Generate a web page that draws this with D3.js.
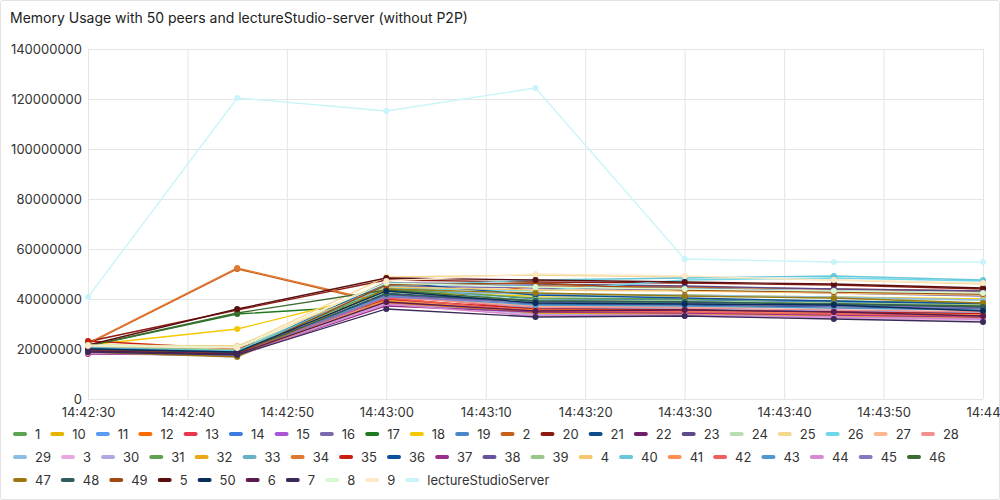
<!DOCTYPE html>
<html>
<head>
<meta charset="utf-8">
<script src="https://cdn.jsdelivr.net/npm/d3@7"></script>
<style>
  body { margin: 0; background: #fff; font-family: Inter, "Noto Sans", sans-serif; }
  svg text { font-family: Inter, "Noto Sans", sans-serif; }
</style>
</head>
<body>
<svg id="chart" width="1000" height="500"></svg>
<script>
// sample times
const times = ["14:42:30", "14:42:45", "14:43:00", "14:43:15", "14:43:30", "14:43:45", "14:44:00"];
const xTickValues = ["14:42:30", "14:42:40", "14:42:50", "14:43:00", "14:43:10", "14:43:20", "14:43:30", "14:43:40", "14:43:50", "14:44:00"];
const xTickLabels = ["14:42:30", "14:42:40", "14:42:50", "14:43:00", "14:43:10", "14:43:20", "14:43:30", "14:43:40", "14:43:50", "14:44"];
const yTicks = [0, 20000000, 40000000, 60000000, 80000000, 100000000, 120000000, 140000000];

// series names in legend order
const names = ["1","10","11","12","13","14","15","16","17","18","19","2","20","21","22","23","24","25","26","27","28","29",
  "3","30","31","32","33","34","35","36","37","38","39","4","40","41","42","43","44","45","46","47","48","49",
  "5","50","6","7","8","9","lectureStudioServer"];

const colors = ["#5aa454","#e6b400","#5b9bf5","#ff6a00","#e8344e","#3b7de0","#a855d8","#7b68ae","#1f7a1f","#f5c800","#4a86c8","#c8601a",
  "#8b1a10","#0e4c8a","#6d1f6a","#5c4a8a","#b8ddb0","#f5d890","#6ed8ea","#fdb890","#f29090","#8cbde0",
  "#e8a8e0","#b0a8e0","#60a050","#e8a818","#68b0c8","#e07830","#c82010","#0e50a0","#983088","#6a50a0","#98c888","#f5c870",
  "#68c8d8","#ff9050","#f06060","#5098d0","#d888d0","#8878c0","#3d6b30","#9a7a10","#305c5c","#a04a10",
  "#5a1010","#0a2e5a","#5a1a4e","#3a2a5a","#d8f8d0","#fde8c8","#c8f4fa"];

// memory values, millions of bytes, one row per series
const values = [
  [20.0, 18.4, 43.6, 37.6, 37.2, 36.8, 36.0], // 1
  [19.6, 17.6, 40.4, 35.2, 34.8, 33.6, 32.8], // 10
  [20.4, 18.8, 41.6, 36.4, 36.0, 35.2, 34.4], // 11
  [19.2, 18.0, 38.8, 34.4, 34.0, 33.2, 32.4], // 12
  [20.8, 19.2, 42.0, 35.6, 35.2, 34.4, 33.6], // 13
  [19.6, 18.4, 44.8, 40.0, 39.6, 38.8, 38.0], // 14
  [20.0, 18.0, 40.0, 34.0, 33.6, 33.2, 32.0], // 15
  [19.2, 17.6, 45.2, 44.4, 43.6, 42.4, 41.2], // 16
  [21.2, 34.0, 37.6, 34.8, 34.4, 33.6, 32.8], // 17
  [21.6, 28.0, 42.8, 41.2, 41.6, 40.8, 40.0], // 18
  [20.4, 18.8, 46.0, 45.2, 44.4, 43.2, 42.4], // 19
  [22.0, 52.0, 38.0, 45.2, 44.8, 44.0, 43.2], // 2
  [23.0, 35.6, 47.6, 46.8, 46.4, 45.6, 44.0], // 20
  [19.6, 18.0, 42.4, 38.0, 37.6, 36.8, 36.0], // 21
  [18.8, 17.6, 39.2, 36.0, 35.6, 34.8, 34.0], // 22
  [20.0, 18.4, 46.4, 46.0, 45.2, 44.0, 43.2], // 23
  [20.8, 20.4, 44.0, 41.6, 41.2, 40.4, 39.6], // 24
  [21.2, 20.8, 48.8, 49.6, 48.8, 47.6, 46.0], // 25
  [20.4, 19.2, 44.4, 43.2, 47.6, 48.4, 47.2], // 26
  [19.6, 18.4, 41.2, 37.2, 36.8, 36.4, 35.6], // 27
  [20.0, 18.8, 40.8, 36.8, 36.4, 35.6, 34.8], // 28
  [19.2, 18.0, 43.2, 42.0, 41.6, 40.8, 39.6], // 29
  [18.4, 17.2, 37.6, 33.6, 33.2, 32.4, 31.6], // 3
  [18.8, 17.6, 38.4, 34.0, 33.6, 33.2, 32.0], // 30
  [20.8, 19.6, 44.0, 40.4, 40.0, 39.2, 38.4], // 31
  [19.6, 17.2, 39.6, 34.4, 34.0, 33.2, 32.4], // 32
  [20.4, 19.2, 45.6, 38.8, 38.4, 37.6, 36.8], // 33
  [22.4, 52.4, 38.4, 35.2, 34.8, 34.0, 33.2], // 34
  [23.2, 20.0, 40.0, 36.0, 35.6, 34.8, 34.0], // 35
  [19.6, 18.4, 46.8, 41.6, 40.4, 39.2, 38.0], // 36
  [18.0, 17.6, 37.2, 34.8, 34.4, 33.6, 32.8], // 37
  [19.2, 18.0, 41.6, 38.4, 38.0, 37.2, 36.4], // 38
  [20.8, 19.6, 42.8, 39.6, 39.2, 38.4, 37.6], // 39
  [21.6, 21.2, 44.8, 43.6, 43.2, 42.4, 41.6], // 4
  [20.4, 19.2, 45.2, 47.6, 48.4, 49.2, 47.6], // 40
  [19.6, 18.0, 39.2, 35.6, 35.2, 34.4, 33.6], // 41
  [20.0, 18.4, 40.4, 35.2, 34.8, 34.0, 33.2], // 42
  [20.4, 18.8, 41.2, 37.6, 37.2, 36.4, 35.6], // 43
  [18.4, 17.2, 38.0, 33.2, 33.6, 32.8, 32.0], // 44
  [19.2, 17.6, 40.8, 38.4, 38.0, 37.2, 36.4], // 45
  [21.2, 34.4, 43.6, 39.2, 38.8, 38.0, 37.2], // 46
  [18.8, 16.8, 44.0, 42.4, 41.2, 40.4, 38.4], // 47
  [20.0, 18.4, 42.0, 39.2, 38.8, 38.0, 36.8], // 48
  [19.6, 18.0, 45.6, 46.4, 43.6, 42.8, 42.0], // 49
  [21.6, 36.0, 48.4, 47.6, 46.8, 46.0, 44.4], // 5
  [20.0, 18.8, 43.2, 38.4, 38.0, 37.6, 35.2], // 50
  [19.2, 18.0, 38.8, 35.2, 35.6, 34.8, 33.2], // 6
  [18.8, 17.6, 36.0, 32.8, 33.2, 32.0, 30.8], // 7
  [21.6, 20.8, 46.4, 44.8, 44.0, 43.2, 42.4], // 8
  [21.2, 20.4, 47.2, 50.0, 49.2, 47.6, 46.4], // 9
  [40.8, 120.4, 115.2, 124.4, 56.0, 54.8, 54.8] // lectureStudioServer
];

const svg = d3.select("#chart");
const parse = d3.timeParse("%H:%M:%S");
const plotLeft = 88, plotRight = 983, plotTop = 49, plotBottom = 399;

svg.append("rect").attr("x", 0.5).attr("y", 0.5).attr("width", 999).attr("height", 499)
  .attr("rx", 2).style("fill", "#fff").style("stroke", "#e2e2e2");

svg.append("text").attr("x", 10).attr("y", 23).style("font-size", "14px").style("font-weight", 400)
  .style("fill", "#222").text("Memory Usage with 50 peers and lectureStudio-server (without P2P)");

const x = d3.scaleTime().domain([parse(times[0]), parse(times[times.length - 1])]).range([plotLeft, plotRight]);
const y = d3.scaleLinear().domain([0, 140000000]).range([plotBottom, plotTop]);

// grid + y axis
const gy = svg.append("g").attr("transform", `translate(${plotLeft},0)`)
  .call(d3.axisLeft(y).tickValues(yTicks).tickSize(-(plotRight - plotLeft)).tickPadding(6).tickFormat(d => d));
gy.select(".domain").remove();
gy.selectAll("line").style("stroke", "#e5e5e5");
gy.selectAll("text").style("font-size", "13px").style("fill", "#333");

// grid + x axis
const gx = svg.append("g").attr("transform", `translate(0,${plotBottom})`)
  .call(d3.axisBottom(x).tickValues(xTickValues.map(parse)).tickSize(-(plotBottom - plotTop))
    .tickPadding(9).tickFormat((d, i) => xTickLabels[i]));
gx.select(".domain").remove();
gx.selectAll("line").style("stroke", "#e5e5e5");
gx.selectAll("text").style("font-size", "13px").style("fill", "#333");

const line = d3.line().x((d, i) => x(parse(times[i]))).y(d => y(d * 1e6));

const series = svg.append("g").selectAll("g").data(names).join("g");
series.append("path").attr("d", (n, k) => line(values[k]))
  .style("fill", "none").style("stroke", (n, k) => colors[k]).style("stroke-width", 1.3);
series.selectAll("circle").data((n, k) => values[k].map(v => ({v: v, k: k}))).join("circle")
  .attr("cx", (d, i) => x(parse(times[i]))).attr("cy", d => y(d.v * 1e6)).attr("r", 3)
  .style("fill", d => colors[d.k]);

// legend, flowing rows
const legend = svg.append("g");
let lx = 13, ly = 434;
names.forEach((n, k) => {
  const item = legend.append("g");
  item.append("rect").attr("x", 0).attr("y", -2).attr("width", 14).attr("height", 4).attr("rx", 2)
    .style("fill", colors[k]);
  const t = item.append("text").attr("x", 22).attr("y", 0).attr("dy", "0.35em")
    .style("font-size", "13px").style("fill", "#333").text(n);
  const w = 22 + t.node().getComputedTextLength() + 10;
  if (lx + w > 990) { lx = 13; ly += 23; }
  item.attr("transform", `translate(${lx},${ly})`);
  lx += w;
});
</script>
</body>
</html>
